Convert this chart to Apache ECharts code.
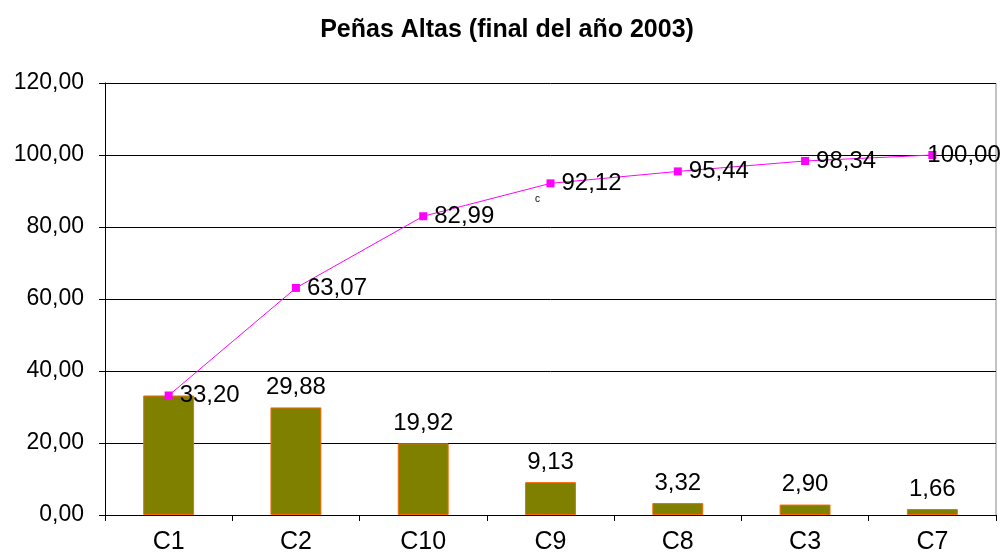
<!DOCTYPE html>
<html>
<head>
<meta charset="utf-8">
<script src="https://cdn.jsdelivr.net/npm/echarts@6/dist/echarts.min.js"></script>
<style>
  html, body { margin: 0; padding: 0; background: #fff; }
  #chart { width: 1003px; height: 557px; }
</style>
</head>
<body>
<div id="chart"></div>
<script>
const categories = ["C1", "C2", "C10", "C9", "C8", "C3", "C7"];
const percentValues = [33.2, 29.88, 19.92, 9.13, 3.32, 2.9, 1.66];
const cumulativeValues = [33.2, 63.07, 82.99, 92.12, 95.44, 98.34, 100.0];
const yTicks = { min: 0, max: 120, interval: 20 };

const fmt = (v) => Number(v).toFixed(2).replace(".", ",");
const font = "Liberation Sans, Arial, sans-serif";

const chart = echarts.init(document.getElementById("chart"));

// the C1 bar label is covered by the line label in the original
const barData = percentValues.map((v, i) => ({
  value: v,
  label: { show: i !== 0 },
}));

// last point label is pulled back inside the plot
const lineData = cumulativeValues.map((v, i) =>
  i === cumulativeValues.length - 1
    ? { value: v, label: { offset: [-16, 0] } }
    : v
);

chart.setOption({
  animation: false,
  title: {
    text: "Peñas Altas (final del año 2003)",
    left: 502,
    textAlign: "center",
    top: 13,
    textStyle: { fontFamily: font, fontSize: 25, fontWeight: "bold", color: "#000" },
  },
  grid: { left: 105, right: 7, top: 83, bottom: 42 },
  xAxis: {
    type: "category",
    data: categories,
    boundaryGap: true,
    axisLine: { lineStyle: { color: "#000", width: 1 } },
    axisTick: { show: true, alignWithLabel: false, length: 6, lineStyle: { color: "#000" } },
    axisLabel: { fontFamily: font, fontSize: 25, color: "#000", margin: 15 },
  },
  yAxis: {
    type: "value",
    min: yTicks.min,
    max: yTicks.max,
    interval: yTicks.interval,
    axisLine: { show: true, lineStyle: { color: "#000" } },
    axisTick: { show: true, length: 6, lineStyle: { color: "#000" } },
    axisLabel: { fontFamily: font, fontSize: 23, color: "#000", margin: 21, formatter: fmt },
    splitLine: { show: true, lineStyle: { color: "#000", width: 1 } },
  },
  graphic: [
    { type: "line", shape: { x1: 996, y1: 83, x2: 996, y2: 515 }, style: { stroke: "#888", lineWidth: 1 } },
    { type: "text", left: 535, top: 194, style: { text: "c", font: "10px " + font, fill: "#000" } },
  ],
  series: [
    {
      type: "bar",
      data: barData,
      barWidth: "40%",
      itemStyle: { color: "#808000", borderColor: "#ff6600", borderWidth: 1 },
      label: {
        position: "top",
        distance: 8,
        fontFamily: font,
        fontSize: 24,
        color: "#000",
        formatter: (p) => fmt(p.value),
      },
      z: 2,
    },
    {
      type: "line",
      data: lineData,
      symbol: "rect",
      symbolSize: 8,
      lineStyle: { color: "#ff00ff", width: 1 },
      itemStyle: { color: "#ff00ff" },
      label: {
        show: true,
        position: "right",
        distance: 7,
        fontFamily: font,
        fontSize: 24,
        color: "#000",
        formatter: (p) => fmt(p.value),
      },
      z: 3,
    },
  ],
});
</script>
</body>
</html>
